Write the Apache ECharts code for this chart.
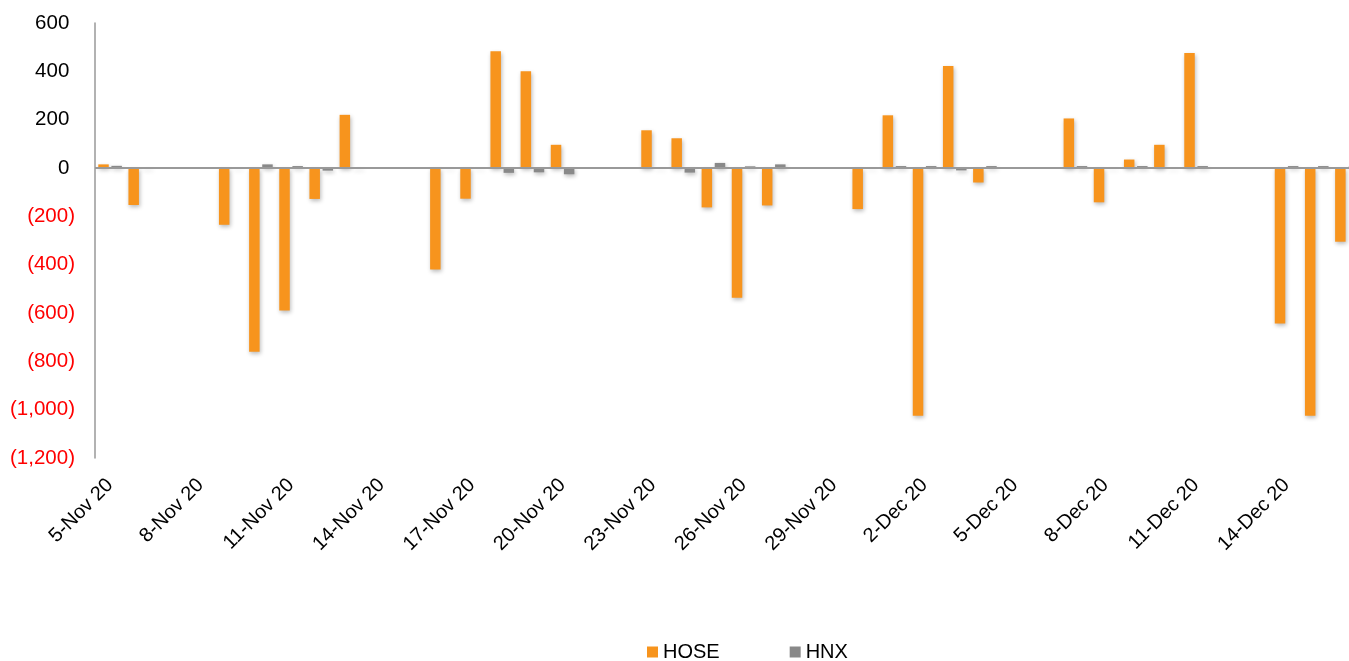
<!DOCTYPE html>
<html>
<head>
<meta charset="utf-8">
<script src="https://cdn.jsdelivr.net/npm/echarts@6/dist/echarts.min.js"></script>
<style>
  html, body { margin: 0; padding: 0; background: #fff; }
  #chart { width: 1349px; height: 661px; }
</style>
</head>
<body>
<div id="chart"></div>
<script>
// one category per calendar day, weekends left empty
const dates = [
  "5-Nov 20", "6-Nov 20", "7-Nov 20", "8-Nov 20", "9-Nov 20", "10-Nov 20", "11-Nov 20",
  "12-Nov 20", "13-Nov 20", "14-Nov 20", "15-Nov 20", "16-Nov 20", "17-Nov 20", "18-Nov 20",
  "19-Nov 20", "20-Nov 20", "21-Nov 20", "22-Nov 20", "23-Nov 20", "24-Nov 20", "25-Nov 20",
  "26-Nov 20", "27-Nov 20", "28-Nov 20", "29-Nov 20", "30-Nov 20", "1-Dec 20", "2-Dec 20",
  "3-Dec 20", "4-Dec 20", "5-Dec 20", "6-Dec 20", "7-Dec 20", "8-Dec 20", "9-Dec 20",
  "10-Dec 20", "11-Dec 20", "12-Dec 20", "13-Dec 20", "14-Dec 20", "15-Dec 20", "16-Dec 20"
];

const hose = [
  15, -153, null, null, -235, -760, -590,
  -128, 220, null, null, -420, -127, 483,
  400, 96, null, null, 156, 123, -163,
  -537, -155, null, null, -170, 218, -1025,
  422, -60, null, null, 205, -142, 35,
  96, 476, null, null, -643, -1025, -305
];

const hnx = [
  9, -3, null, null, -2, 15, 8,
  -11, -3, null, null, -2, -2, -20,
  -18, -26, null, null, -2, -19, 21,
  7, 15, null, null, -2, 8, 8,
  -10, 8, null, null, 8, -2, 8,
  -2, 8, null, null, 8, 8, 5
];

const yMin = -1200;
const yMax = 600;
const yStep = 200;

const chart = echarts.init(document.getElementById("chart"));

const fmt = (v) => {
  const s = Math.abs(v).toLocaleString("en-US");
  return v < 0 ? "{neg|(" + s + ")}" : "{pos|" + s + " }";
};

const shadow = {
  shadowColor: "rgba(0,0,0,0.28)",
  shadowBlur: 4,
  shadowOffsetX: 1,
  shadowOffsetY: 2
};

chart.setOption({
  animation: false,
  textStyle: { fontFamily: "Liberation Sans, Arial, sans-serif" },
  grid: { left: 95, top: 23, bottom: 203, width: 1267, outerBoundsMode: "none", containLabel: false },
  legend: {
    left: 647,
    top: 642,
    padding: 0,
    itemWidth: 11,
    itemHeight: 11,
    itemGap: 70,
    icon: "rect",
    textStyle: { fontSize: 20, color: "#000" },
    data: ["HOSE", "HNX"]
  },
  xAxis: {
    type: "category",
    data: dates,
    axisLine: { show: false, onZero: false },
    axisTick: { show: false },
    axisLabel: {
      interval: 2,
      rotate: 45,
      margin: 24,
      fontSize: 20,
      color: "#000"
    }
  },
  yAxis: {
    type: "value",
    min: yMin,
    max: yMax,
    interval: yStep,
    splitLine: { show: false },
    axisLine: { show: true, lineStyle: { color: "#999", width: 1.5 } },
    axisTick: { show: false },
    axisLabel: {
      margin: 20,
      formatter: fmt,
      rich: {
        pos: { fontSize: 20.5, color: "#000" },
        neg: { fontSize: 20.5, color: "#ff0000" }
      }
    }
  },
  series: [
    {
      name: "HOSE",
      type: "bar",
      data: hose,
      barWidth: 10.5,
      barGap: "25%",
      itemStyle: Object.assign({ color: "#F7941D" }, shadow),
      markLine: {
        silent: true,
        symbol: "none",
        label: { show: false },
        lineStyle: { color: "#999", type: "solid", width: 2 },
        data: [{ yAxis: 0 }]
      }
    },
    {
      name: "HNX",
      type: "bar",
      data: hnx,
      barWidth: 10.5,
      itemStyle: Object.assign({ color: "#898989" }, shadow)
    }
  ]
});
</script>
</body>
</html>
